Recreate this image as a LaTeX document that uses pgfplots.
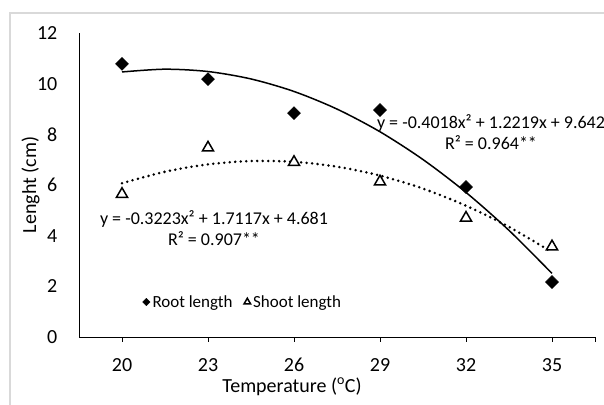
\documentclass[border=0pt]{standalone}
\usepackage{fontspec}
\setmainfont{Carlito}
\usepackage{pgfplots}
\pgfplotsset{compat=1.18}
\definecolor{framegray}{RGB}{217,217,217}

\newcommand{\fs}[1]{\fontsize{#1}{#1}\selectfont}
% one small mark as legend image
\pgfplotsset{small mark legend/.style={
    legend image code/.code={\draw[##1, mark size=#1] plot coordinates {(0bp,0bp)};}}}

\begin{document}
\begin{tikzpicture}
  \useasboundingbox (0,0) rectangle (604bp,405bp);
  % outer chart frame (cropped at right and bottom)
  \draw[framegray, line width=1.2bp] (10bp,-5bp) -- (10bp,392bp) -- (610bp,392bp);

  \begin{axis}[
      at={(79bp,68bp)}, anchor=south west,
      scale only axis,
      width=516bp, height=304bp,
      xmin=0.5, xmax=6.5,
      ymin=0, ymax=12,
      axis x line=bottom, axis y line=left,
      axis line style={-, black, line width=0.9bp},
      xtick={1,2,3,4,5,6},
      xticklabels={20,23,26,29,32,35},
      extra x ticks={6.5}, extra x tick labels={},
      ytick={0,2,4,6,8,10,12},
      xtick align=outside,
      major tick length=5bp,
      xtick style={black, line width=0.9bp},
      ytick style={draw=none},
      /pgf/number format/assume math mode=true,
      tick label style={font=\fs{20bp}},
      xticklabel style={anchor=north, inner sep=0pt, yshift=-16bp},
      yticklabel style={anchor=east, inner sep=0pt, xshift=-19bp},
      clip=false,
      legend columns=2,
      legend style={draw=none, fill=none, font=\fs{17bp},
        at={(0.317,0.115)}, anchor=center, inner sep=0pt,
        /tikz/every odd column/.style={column sep=1bp},
        /tikz/every even column/.style={column sep=10bp},
        nodes={inner sep=1.5bp}},
    ]
    % root length data
    \addplot[only marks, mark=square*, mark size=4.6bp,
      mark options={rotate=45, fill=black, draw=black},
      small mark legend=2.6bp]
      coordinates {(1,10.78) (2,10.18) (3,8.84) (4,8.96) (5,5.92) (6,2.17)};
    \addlegendentry{Root length}
    % shoot length data
    \addplot[only marks, mark=triangle*, mark size=6.4bp,
      mark options={fill=white, draw=black, line width=1.5bp},
      small mark legend=3.8bp]
      coordinates {(1,5.64) (2,7.47) (3,6.90) (4,6.13) (5,4.70) (6,3.57)};
    \addlegendentry{Shoot length}

    % polynomial trendline, root: y = -0.4018x^2 + 1.2219x + 9.642
    \addplot[black, line width=1.5bp, smooth, forget plot]
      coordinates {(1,10.462) (1.5,10.571) (2,10.479) (2.5,10.186) (3,9.692)
        (3.5,8.997) (4,8.101) (4.5,7.004) (5,5.707) (5.5,4.208) (6,2.509)};
    % polynomial trendline, shoot: y = -0.3223x^2 + 1.7117x + 4.681
    \addplot[black, line width=2.8bp, line cap=round, dash pattern=on 0bp off 5.5bp,
      smooth, forget plot]
      coordinates {(1,6.070) (1.5,6.523) (2,6.815) (2.5,6.946) (3,6.915)
        (3.5,6.724) (4,6.371) (4.5,5.857) (5,5.182) (5.5,4.346) (6,3.348)};
  \end{axis}

  % axis titles
  \node[rotate=90, anchor=base, font=\fs{20bp}] at (36bp,220bp) {Lenght (cm)};
  \node[anchor=base, font=\fs{20bp}] at (292bp,13bp) {Temperature (\textsuperscript{o}C)};

  % trendline equations
  \node[anchor=base, font=\fs{18bp}, inner sep=0pt] at (491bp,276bp) {y = -0.4018x² + 1.2219x + 9.642};
  \node[anchor=base, font=\fs{18bp}, inner sep=0pt] at (491bp,255bp) {R² = 0.964**};
  \node[anchor=base, font=\fs{18bp}, inner sep=0pt] at (214bp,180bp) {y = -0.3223x² + 1.7117x + 4.681};
  \node[anchor=base, font=\fs{18bp}, inner sep=0pt] at (214bp,159bp) {R² = 0.907**};
\end{tikzpicture}
\end{document}
